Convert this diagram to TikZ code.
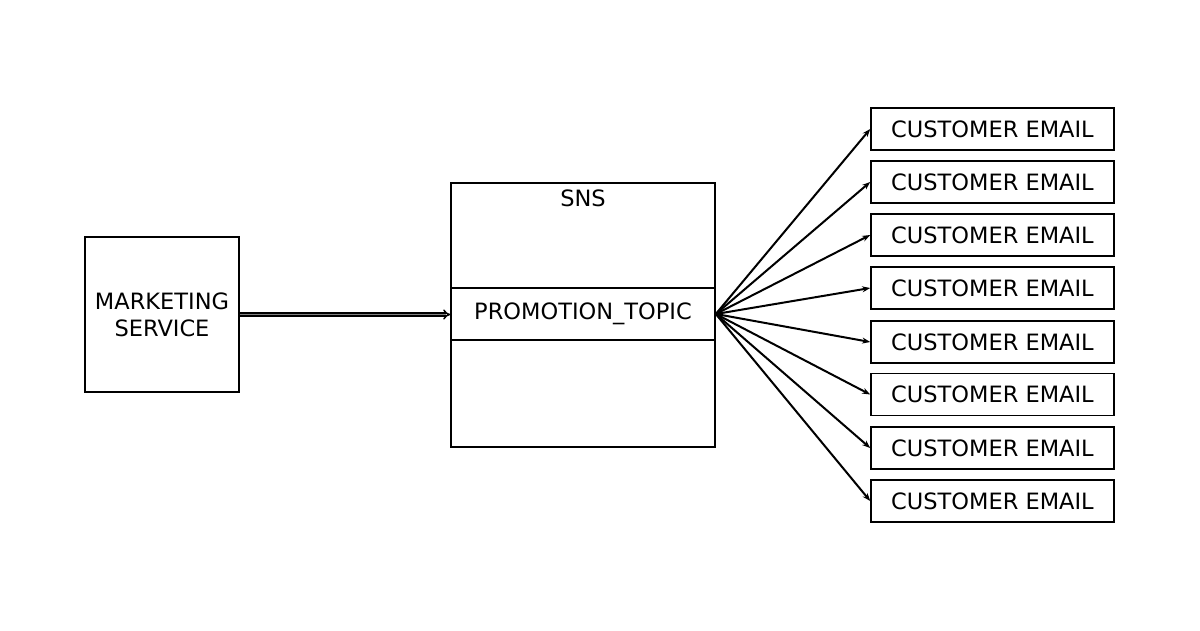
\documentclass[tikz,border=0pt]{standalone}
\usepackage{fontspec}
\setmainfont{DejaVu Sans}
\usetikzlibrary{arrows.meta}
\begin{document}
\begin{tikzpicture}[x=1pt,y=-1pt,
  lbl/.style={font=\fontsize{22.5}{27}\selectfont},
  box/.style={draw,line width=1.6pt,inner sep=0pt,lbl,align=center},
  cust/.style={box,minimum width=243pt,minimum height=42pt},
  link/.style={line width=2pt,-{Stealth[length=8pt,width=6pt]}}]
\useasboundingbox (0,0) rectangle (1200,630);
\node[box,minimum width=154pt,minimum height=155pt] (ms) at (162,314.5) {MARKETING\\SERVICE};
\node[box,minimum width=264pt,minimum height=264pt] (sns) at (583,315) {};
\node[lbl,inner sep=0pt] (snsl) at (583,198) {SNS};
\node[box,minimum width=264pt,minimum height=52pt] (pt) at (583,314) {\raisebox{-2pt}{PROMOTION\_TOPIC}};
\foreach \i/\y in {1/129,2/182,3/235,4/288,5/342,6/394.5,7/448,8/501}{
  \node[cust] (c\i) at (992.5,\y) {CUSTOMER EMAIL};
  \draw[link] (pt.east) -- (c\i.west);
}
\draw[line width=1.5pt,double=gray,double distance=1.8pt,-{Implies[length=8pt]}] (ms.east) -- (sns.west |- ms.east);
\end{tikzpicture}
\end{document}
